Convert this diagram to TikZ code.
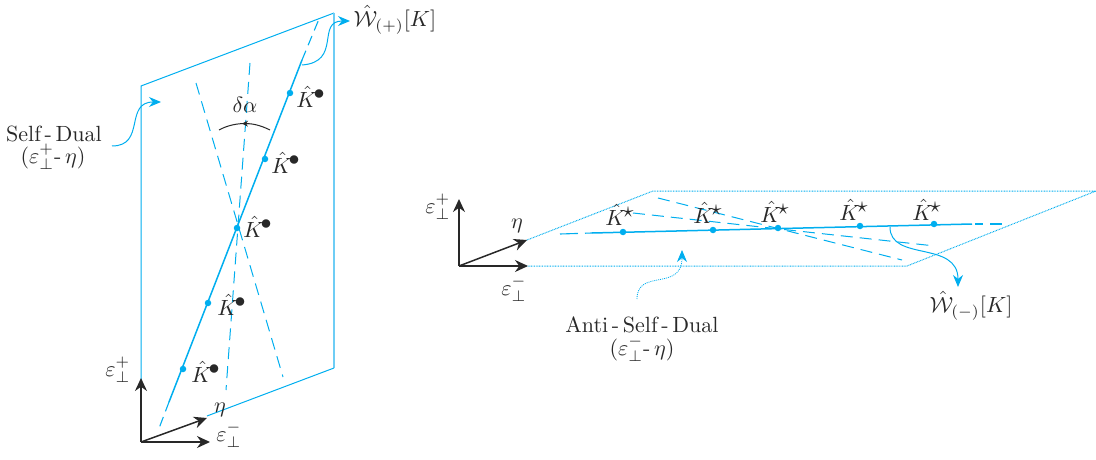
\documentclass[tikz,border=0pt]{standalone}
\usepackage{amsmath}
\usetikzlibrary{arrows.meta}
\definecolor{skyc}{RGB}{0,174,239}
\definecolor{skyl}{RGB}{110,205,245}
\definecolor{ink}{RGB}{40,40,40}
\tikzset{
  x=1pt,y=-1pt,
  lbl/.style={inner sep=0pt,outer sep=0pt,text=ink,scale=2.2,align=center},
  plane/.style={draw=skyc,line width=1pt},
  planel/.style={draw=skyl,line width=1.6pt},
  planed/.style={draw=skyc,line width=1pt,dash pattern=on 0.8pt off 0.8pt},
  wl/.style={draw=skyc,line width=1.5pt},
  wdash/.style={draw=skyc,line width=1pt,dash pattern=on 12pt off 7pt},
  wdashdot/.style={draw=skyc,line width=1.1pt,dash pattern=on 10pt off 6pt},
  dotn/.style={circle,fill=skyc,inner sep=0pt,minimum size=6.5pt},
  axis/.style={draw=ink,line width=1.5pt,-{Stealth[length=13pt,width=12pt]}},
  wig/.style={draw=skyc,line width=1pt,-{Stealth[length=12pt,width=10pt]}},
  wigd/.style={draw=skyc,line width=0.8pt,dash pattern=on 1pt off 1pt,-{Stealth[length=12pt,width=10pt,fill=skyc]}}
}
\newcommand{\Kb}{$\hat K^{\!\textstyle\bullet}$}
\newcommand{\Ks}{$\hat K^{\!\textstyle\star}$}
\begin{document}
\begin{tikzpicture}
\useasboundingbox (0,0) rectangle (1096,460);
% ---- left plane
\coordinate (la) at (141,86);
\coordinate (lb) at (334,13);
\coordinate (lc) at (334,368);
\coordinate (ld) at (141,441);
\coordinate (lo) at (141,442);
\draw[plane] (ld) -- (la) -- (lb);
\draw[planel] (lb) -- (lc);
\draw[plane] (lc) -- (207,416);
% dashed lines
\coordinate (d1a) at (250,63);
\coordinate (d1b) at (226,390);
\coordinate (d2a) at (196,83);
\coordinate (d2b) at (283,377);
\draw[wdash] (d1a) -- (d1b);
\draw[wdash] (d2a) -- (d2b);
% main line
\coordinate (ms) at (169,402);
\coordinate (me) at (302,60);
\coordinate (mst) at (158,431);
\coordinate (met) at (319,19);
\draw[wl] (ms) -- (me);
\draw[wdashdot] (me) -- (met);
\draw[wdashdot] (ms) -- (mst);
\node[dotn] (l1) at (183,369) {};
\node[dotn] (l2) at (208,303) {};
\node[dotn] (l3) at (237,228) {};
\node[dotn] (l4) at (265,159) {};
\node[dotn] (l5) at (290,93) {};
\node[lbl] (lk1) at (206,372) {\Kb};
\node[lbl] (lk2) at (232,305) {\Kb};
\node[lbl] (lk3) at (258,227) {\Kb};
\node[lbl] (lk4) at (286,163) {\Kb};
\node[lbl] (lk5) at (311,97) {\Kb};
% arc
\coordinate (aa) at (219,130);
\coordinate (ab) at (270,130);
\coordinate (am) at (245,123.5);
\draw[draw=ink,line width=1pt] (ab) .. controls (260,125) and (252,123.5) .. (am)
  .. controls (238,123.5) and (228,125) .. (aa);
\draw[draw=ink,line width=1pt,-{Stealth[length=6pt,width=6pt]}] (249,123.7) -- (242,123.5);
\node[lbl] (alpha) at (245,105) {$\delta\alpha$};
% wiggles
\node[lbl] (wplus) at (395,20) {$\hat{\mathcal W}_{(+)}[K]$};
\coordinate (wps) at (302,65);
\draw[wig] (wps) .. controls (342,62) and (316,21) .. (350,21);
\node[lbl] (sd) at (54,134) {Self\,-\,Dual};
\node[lbl] (sd2) at (53,157) {$(\varepsilon_\perp^+\text{-}\,\eta)$};
\coordinate (sds) at (112,146);
\coordinate (sde) at (161,102);
\draw[wig] (sds) .. controls (146,146) and (124,102) .. (sde);
% left axes
\draw[axis] (lo) -- (141,378) coordinate (lu);
\draw[axis] (lo) -- (210,442) coordinate (lr);
\draw[axis] (lo) -- (207,418) coordinate (le);
\node[lbl] (lep) at (118,370) {$\varepsilon_\perp^+$};
\node[lbl] (let) at (220,410) {$\eta$};
\node[lbl] (lem) at (229,435) {$\varepsilon_\perp^-$};
% ---- right plane
\coordinate (ra) at (527,240);
\coordinate (rb) at (653,191);
\coordinate (rc) at (1096,191);
\coordinate (rd) at (907,266);
\coordinate (re) at (525,266);
\coordinate (ro) at (459,266);
\draw[planed] (ra) -- (rb) -- (rc) -- (rd) -- (re);
\coordinate (r1a) at (658,198);
\coordinate (r1b) at (902,260);
\coordinate (r2a) at (633,213);
\coordinate (r2b) at (935,246);
\draw[wdash] (r1a) -- (r1b);
\draw[wdash] (r2a) -- (r2b);
\coordinate (rms) at (592,233);
\coordinate (rme) at (972,224);
\coordinate (rmst) at (560,234);
\coordinate (rmet) at (1002,224);
\draw[wl] (rms) -- (rme);
\draw[wdashdot,dash pattern=on 18pt off 7pt on 10pt off 100pt] (rmst) -- (rms);
\draw[wdashdot,dash pattern=on 0pt off 3pt on 8pt off 7pt on 12pt off 100pt] (rme) -- (rmet);
\node[dotn] (r1) at (623,232) {};
\node[dotn] (r2) at (713,230) {};
\node[dotn] (r3) at (778,228) {};
\node[dotn] (r4) at (860,226) {};
\node[dotn] (r5) at (934,224) {};
\node[lbl] (rk1) at (620,215) {\Ks};
\node[lbl] (rk2) at (708,213) {\Ks};
\node[lbl] (rk3) at (775,212) {\Ks};
\node[lbl] (rk4) at (854,210) {\Ks};
\node[lbl] (rk5) at (927,210) {\Ks};
% right labels and wiggles
\node[lbl] (wminus) at (971,306) {$\hat{\mathcal W}_{(-)}[K]$};
\coordinate (wms) at (890,227);
\coordinate (wme) at (958,287);
\draw[wig] (wms) .. controls (890,262) and (958,240) .. (wme);
\node[lbl] (asd) at (642,325) {Anti\,-\,Self\,-\,Dual};
\node[lbl] (asd2) at (642,349) {$(\varepsilon_\perp^-\text{-}\,\eta)$};
\coordinate (asds) at (637,299);
\coordinate (asde) at (682,250);
\draw[wigd] (asds) .. controls (637,268) and (682,292) .. (asde);
% right axes
\draw[axis] (ro) -- (459,199) coordinate (ru);
\draw[axis] (ro) -- (528,266) coordinate (rr);
\draw[axis] (ro) -- (527,240) coordinate (rt);
\node[lbl] (rep) at (438,207) {$\varepsilon_\perp^+$};
\node[lbl] (ret) at (517,226) {$\eta$};
\node[lbl] (rem) at (514,289) {$\varepsilon_\perp^-$};
\end{tikzpicture}
\end{document}
